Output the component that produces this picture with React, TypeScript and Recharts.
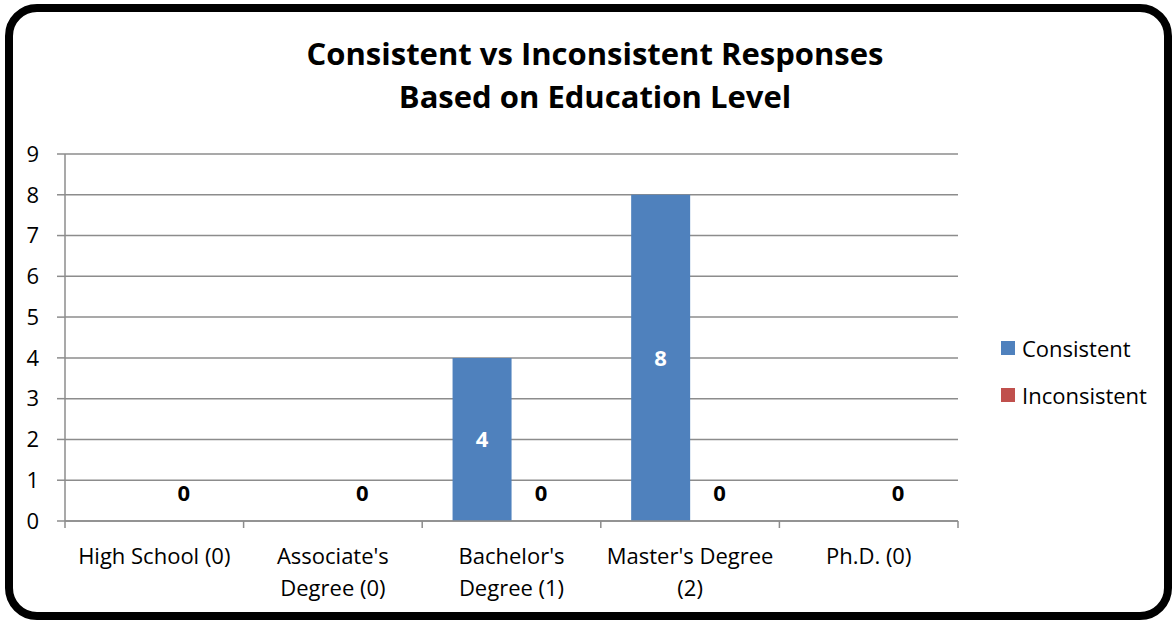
import React from 'react';
import { BarChart, Bar, XAxis, YAxis, CartesianGrid, LabelList } from 'recharts';

const categories = [
  "High School (0)",
  "Associate's\nDegree (0)",
  "Bachelor's\nDegree (1)",
  "Master's Degree\n(2)",
  'Ph.D. (0)',
];
const consistent = [0, 0, 4, 8, 0];
const inconsistent = [0, 0, 0, 0, 0];
const yTicks = [0, 1, 2, 3, 4, 5, 6, 7, 8, 9];
const seriesNames = ['Consistent', 'Inconsistent'];
const seriesColors = ['#4F81BD', '#C0504D'];

const data = categories.map((cat, i) => ({
  cat,
  consistent: consistent[i],
  inconsistent: inconsistent[i],
}));

const FONT = '"Open Sans", sans-serif';
const GRID = '#8c8c8c';
const M = { top: 154, right: 218, bottom: 11, left: 15 };
const Y_W = 50;
const PLOT_W = 1176 - M.left - M.right - Y_W;
const BAND = PLOT_W / categories.length;
const GAP_PCT = 0.17;
const BAR_W = (BAND * (1 - 2 * GAP_PCT)) / 2;

// category label centred under band, tick marks on band edges.
// zero-height bars get no LabelList entry, so the Inconsistent value labels sit here
const CategoryTick = (props: any) => {
  const { x, y, payload, index } = props;
  const lines = String(payload.value).split('\n');
  return (
    <g>
      <line x1={x - BAND / 2} x2={x - BAND / 2} y1={y} y2={y + 7} stroke={GRID} strokeWidth={1.5} />
      {index === categories.length - 1 && (
        <line x1={x + BAND / 2} x2={x + BAND / 2} y1={y} y2={y + 7} stroke={GRID} strokeWidth={1.5} />
      )}
      {lines.map((l, i) => (
        <text key={i} x={x} y={y + 43 + i * 32} textAnchor="middle" fontSize={22} fill="#000" fontFamily={FONT}>
          {l}
        </text>
      ))}
      <text x={x + BAR_W / 2} y={y - 20} textAnchor="middle" fill="#000" fontWeight="bold" fontSize={22} fontFamily={FONT}>
        {inconsistent[index]}
      </text>
    </g>
  );
};

const InsideLabel = (props: any) => {
  const { x, y, width, height, value } = props;
  if (!value) return null;
  return (
    <text x={x + width / 2} y={y + height / 2} dy={8} textAnchor="middle" fill="#fff" fontWeight="bold" fontSize={22} fontFamily={FONT}>
      {value}
    </text>
  );
};

export default function App() {
  return (
    <div style={{ position: 'absolute', left: 0, top: 0, width: 1176, height: 622, background: '#fff', fontFamily: FONT }}>
      <div
        style={{
          position: 'absolute', left: 5, top: 4, width: 1167, height: 616, boxSizing: 'border-box',
          border: '8px solid #000', borderRadius: 32,
        }}
      />
      <div
        style={{
          position: 'absolute', left: 0, top: 32, width: 1190, textAlign: 'center',
          fontSize: 31, fontWeight: 'bold', lineHeight: '43px', color: '#000',
        }}
      >
        Consistent vs Inconsistent Responses
        <br />
        Based on Education Level
      </div>

      <div style={{ position: 'absolute', left: 0, top: 0 }}>
        <BarChart width={1176} height={622} data={data} margin={M} barCategoryGap={`${GAP_PCT * 100}%`} barGap={0}>
          <CartesianGrid vertical={false} stroke={GRID} strokeWidth={1.5} />
          <YAxis
            domain={[0, 9]}
            ticks={yTicks}
            interval={0}
            width={Y_W}
            axisLine={{ stroke: GRID, strokeWidth: 1.5 }}
            tickLine={{ stroke: GRID, strokeWidth: 1.5 }}
            tickSize={8}
            tickMargin={18}
            tick={{ fontSize: 22, fill: '#000', fontFamily: FONT }}
          />
          <XAxis
            dataKey="cat"
            height={90}
            interval={0}
            axisLine={{ stroke: GRID, strokeWidth: 1.5 }}
            tickLine={false}
            tickSize={0}
            tickMargin={0}
            tick={<CategoryTick />}
          />
          <Bar dataKey="consistent" name={seriesNames[0]} fill={seriesColors[0]} isAnimationActive={false}>
            <LabelList dataKey="consistent" content={<InsideLabel />} />
          </Bar>
          <Bar dataKey="inconsistent" name={seriesNames[1]} fill={seriesColors[1]} isAnimationActive={false} />
        </BarChart>
      </div>

      {seriesNames.map((n, i) => (
        <div key={n} style={{ position: 'absolute', left: 1001, top: 334 + i * 47, height: 28, display: 'flex', alignItems: 'center', fontSize: 22, color: '#000' }}>
          <span style={{ display: 'inline-block', width: 14, height: 14, background: seriesColors[i], marginRight: 7 }} />
          {n}
        </div>
      ))}
    </div>
  );
}
